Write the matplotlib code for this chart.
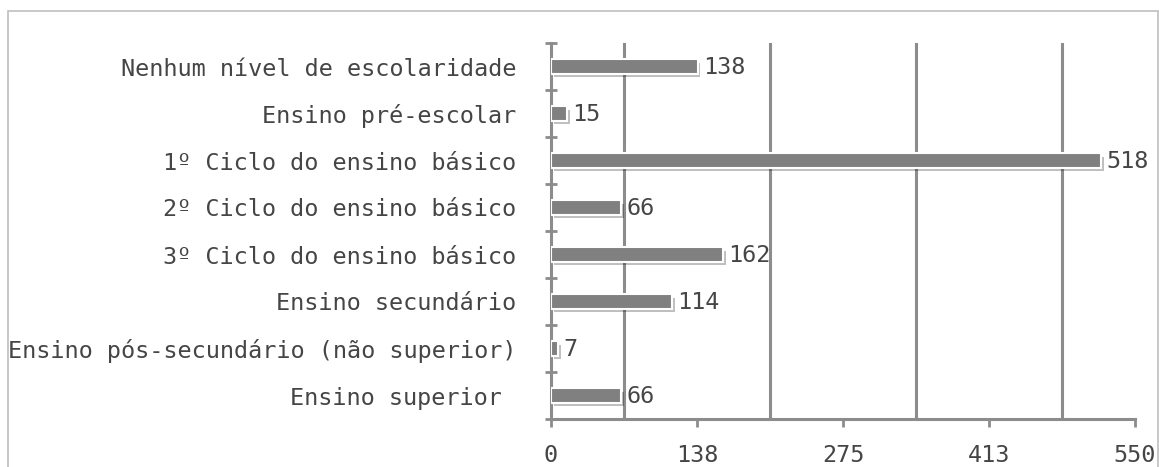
import matplotlib
matplotlib.use("Agg")
import matplotlib.pyplot as plt
import matplotlib.patheffects as pe
from matplotlib.patches import Rectangle

categories = [
    "Nenhum nível de escolaridade",
    "Ensino pré-escolar",
    "1º Ciclo do ensino básico",
    "2º Ciclo do ensino básico",
    "3º Ciclo do ensino básico",
    "Ensino secundário",
    "Ensino pós-secundário (não superior)",
    "Ensino superior ",
]
values = [138, 15, 518, 66, 162, 114, 7, 66]
xtick_values = [0, 137.5, 275, 412.5, 550]
xtick_labels = ["0", "138", "275", "413", "550"]
grid_values = [68.75, 206.25, 343.75, 481.25]

W, H = 1159, 467
fig = plt.figure(figsize=(W / 100, H / 100), dpi=100)
fig.patch.set_facecolor("white")

# outer border
fig.add_artist(Rectangle((8 / W, -0.01), (1158 - 8) / W, 1 - 11 / H + 0.01,
                         transform=fig.transFigure, fill=False,
                         edgecolor="#bfbfbf", linewidth=1.2))

ax = fig.add_axes([551 / W, 1 - 419 / H, (1135 - 551) / W, (419 - 43) / H])

font = "DejaVu Sans Mono"
fs = 16.9
tc = "#454545"
gc = "#8c8c8c"

n = len(categories)
ypos = list(range(n))
bars = ax.barh(ypos, values, height=0.31, color="#808080", edgecolor="white",
               linewidth=1.5, zorder=3)
for b in bars:
    b.set_path_effects([pe.SimplePatchShadow(offset=(2, -2.5), shadow_rgbFace="black", alpha=0.25),
                        pe.Normal()])

for y, v in zip(ypos, values):
    ax.text(v + 5, y + 0.03, str(v), va="center", ha="left", fontsize=fs,
            family=font, color=tc, zorder=4)

ax.set_ylim(n - 0.5, -0.5)
ax.set_xlim(0, 550)

for g in grid_values:
    ax.axvline(g, color=gc, linewidth=2.2, zorder=1)

ax.set_yticks([i - 0.5 for i in range(n + 1)])
ax.set_yticklabels([])
ax.set_yticks(ypos, minor=True)
ax.set_yticklabels(categories, minor=True, family=font, fontsize=fs, color=tc)
ax.tick_params(axis="y", which="minor", length=0, pad=25)
ax.tick_params(axis="y", which="major", length=8, width=2, color=gc, direction="inout")

ax.set_xticks(xtick_values)
ax.set_xticklabels(xtick_labels, family=font, fontsize=fs, color=tc)
ax.tick_params(axis="x", length=6, width=2, color=gc, direction="out", pad=12)

for s in ["top", "right"]:
    ax.spines[s].set_visible(False)
for s in ["left", "bottom"]:
    ax.spines[s].set_color(gc)
    ax.spines[s].set_linewidth(2.2)

fig.savefig("out.png", dpi=100, facecolor="white")
